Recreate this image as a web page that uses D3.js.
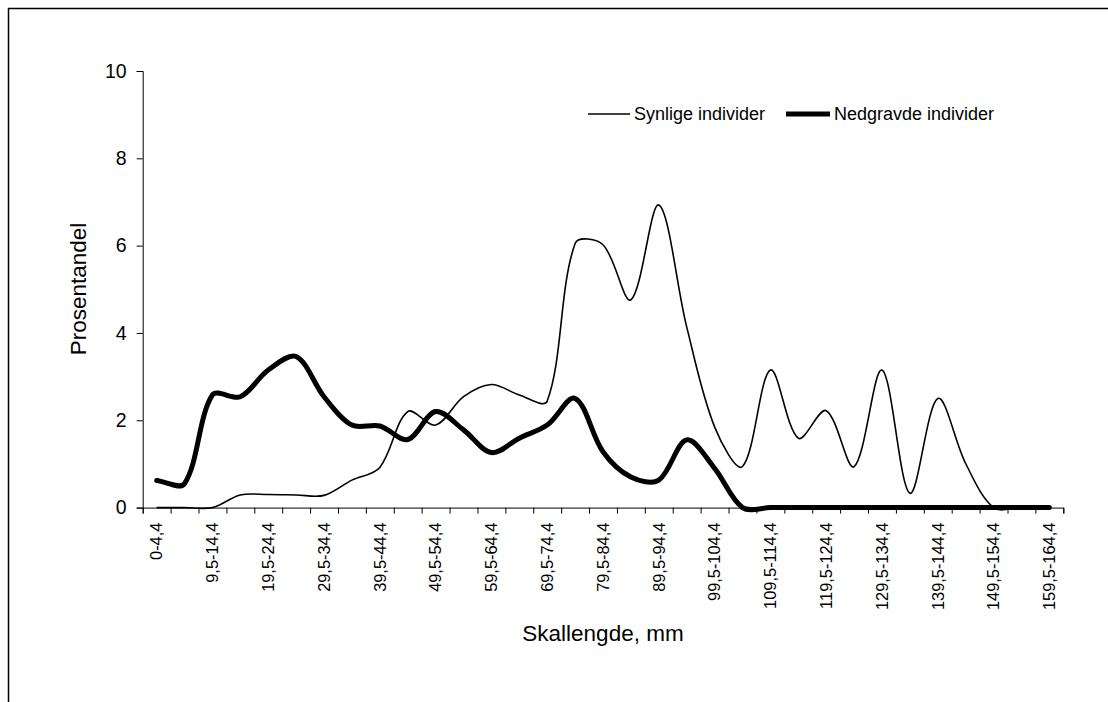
<!DOCTYPE html>
<html>
<head>
<meta charset="utf-8">
<script src="https://cdn.jsdelivr.net/npm/d3@7"></script>
<style>
  html, body { margin: 0; padding: 0; background: #fff; }
  svg { display: block; font-family: "Liberation Sans", Arial, sans-serif; }
</style>
</head>
<body>
<svg id="chart" width="1108" height="702"></svg>
<script>
const categories = ["0-4,4","4,5-9,4","9,5-14,4","14,5-19,4","19,5-24,4","24,5-29,4","29,5-34,4","34,5-39,4","39,5-44,4","44,5-49,4","49,5-54,4","54,5-59,4","59,5-64,4","64,5-69,4","69,5-74,4","74,5-79,4","79,5-84,4","84,5-89,4","89,5-94,4","94,5-99,4","99,5-104,4","104,5-109,4","109,5-114,4","114,5-119,4","119,5-124,4","124,5-129,4","129,5-134,4","134,5-139,4","139,5-144,4","144,5-149,4","149,5-154,4","154,5-159,4","159,5-164,4"];
const synlige = [0,0,0,0.29,0.30,0.29,0.28,0.63,0.92,2.20,1.89,2.54,2.82,2.58,2.44,6.05,6.02,4.76,6.93,4.14,1.85,0.94,3.15,1.59,2.22,0.94,3.15,0.33,2.50,1.01,0,0,0];
const nedgravde = [0.62,0.55,2.58,2.54,3.15,3.46,2.54,1.89,1.87,1.56,2.20,1.78,1.26,1.59,1.89,2.50,1.28,0.70,0.63,1.55,0.90,0,0,0,0,0,0,0,0,0,0,0,0];
const seriesNames = ["Synlige individer", "Nedgravde individer"];
const yTicks = [0, 2, 4, 6, 8, 10];
const xTitle = "Skallengde, mm";
const yTitle = "Prosentandel";

// Spreadsheet-style smoothing: Bezier segments whose handles are scaled by segment length
function SmoothCurve(context) { this._context = context; }
SmoothCurve.prototype = {
  areaStart() { this._line = 0; },
  areaEnd() { this._line = NaN; },
  lineStart() { this._pts = []; },
  point(px, py) { this._pts.push([+px, +py]); },
  lineEnd() {
    const p = this._pts, n = p.length, c = this._context;
    if (!n) return;
    c.moveTo(p[0][0], p[0][1]);
    const dist = (a, b) => Math.hypot(b[0] - a[0], b[1] - a[1]);
    for (let i = 0; i < n - 1; i++) {
      const p0 = p[i - 1] || p[i], p1 = p[i], p2 = p[i + 1], p3 = p[i + 2] || p[i + 1];
      const d01 = dist(p0, p1), d12 = dist(p1, p2), d23 = dist(p2, p3);
      const s1 = (d01 + d12) > 0 ? d12 / (d01 + d12) : 0.5;
      const s2 = (d12 + d23) > 0 ? d12 / (d12 + d23) : 0.5;
      const c1 = [p1[0] + (p2[0] - p0[0]) * s1 / 3, p1[1] + (p2[1] - p0[1]) * s1 / 3];
      const c2 = [p2[0] - (p3[0] - p1[0]) * s2 / 3, p2[1] - (p3[1] - p1[1]) * s2 / 3];
      c.bezierCurveTo(c1[0], c1[1], c2[0], c2[1], p2[0], p2[1]);
    }
  }
};
const smoothCurve = (context) => new SmoothCurve(context);

const svg = d3.select("#chart");

// outer chart border (extends past right/bottom edge)
svg.append("rect").attr("x", 8.5).attr("y", 8.5).attr("width", 1200).attr("height", 800)
  .attr("fill", "none").attr("stroke", "#000").attr("stroke-width", 1.5);

const plotL = 142.7, plotR = 1063.3, plotT = 71, plotB = 507.6;
const x = d3.scaleBand().domain(categories).range([plotL, plotR]).padding(0);
const xEdge = d3.scaleLinear().domain([0, categories.length]).range([plotL, plotR]);
const y = d3.scaleLinear().domain([0, 10]).range([plotB, plotT]);

// Y axis
const yAxis = svg.append("g").attr("transform", `translate(${plotL},0)`)
  .call(d3.axisLeft(y).tickValues(yTicks).tickSize(6).tickPadding(10).tickFormat(d3.format("d")));
yAxis.select(".domain").attr("stroke", "#000").attr("stroke-width", 1);
yAxis.selectAll(".tick line").attr("stroke", "#000");
yAxis.selectAll(".tick text").attr("font-size", 19.5).attr("fill", "#000")
  .attr("font-family", '"Liberation Sans", Arial, sans-serif');

// X axis: boundary ticks
const xTickAxis = svg.append("g").attr("transform", `translate(0,${plotB})`)
  .call(d3.axisBottom(xEdge).tickValues(d3.range(categories.length + 1)).tickSize(6).tickFormat(""));
xTickAxis.select(".domain").attr("stroke", "#000").attr("stroke-width", 1);
xTickAxis.selectAll(".tick line").attr("stroke", "#000");

// X axis labels (every other category)
const xLab = svg.append("g").attr("transform", `translate(0,${plotB})`)
  .call(d3.axisBottom(x).tickSize(0).tickPadding(0)
    .tickFormat((d, i) => (i % 2 === 0 ? d : "")));
xLab.select(".domain").remove();
xLab.selectAll(".tick text")
  .attr("font-size", 16.4).attr("fill", "#000")
  .attr("font-family", '"Liberation Sans", Arial, sans-serif')
  .attr("text-anchor", "end")
  .attr("transform", "rotate(-90)")
  .attr("x", -15).attr("y", 0).attr("dy", "0.35em");

// Lines
const line = (vals) => d3.line()
  .x((d, i) => x(categories[i]) + x.bandwidth() / 2)
  .y(d => y(d))
  .curve(smoothCurve)(vals);

svg.append("path").attr("d", line(synlige)).attr("fill", "none")
  .attr("stroke", "#000").attr("stroke-width", 1.6);
svg.append("path").attr("d", line(nedgravde)).attr("fill", "none")
  .attr("stroke", "#000").attr("stroke-width", 5).attr("stroke-linejoin", "round").attr("stroke-linecap", "round");

// Axis titles
svg.append("text").text(yTitle)
  .attr("transform", "translate(86,289) rotate(-90)")
  .attr("text-anchor", "middle").attr("font-size", 22.5).attr("fill", "#000");
svg.append("text").text(xTitle)
  .attr("x", 603).attr("y", 641)
  .attr("text-anchor", "middle").attr("font-size", 22.5).attr("fill", "#000");

// Legend
const legY = 114;
const leg = svg.append("g");
leg.append("line").attr("x1", 588).attr("x2", 630).attr("y1", legY).attr("y2", legY)
  .attr("stroke", "#000").attr("stroke-width", 1.6);
leg.append("text").text(seriesNames[0]).attr("x", 634).attr("y", legY).attr("dy", "0.35em")
  .attr("font-size", 18).attr("fill", "#000");
leg.append("line").attr("x1", 786).attr("x2", 830).attr("y1", legY).attr("y2", legY)
  .attr("stroke", "#000").attr("stroke-width", 5);
leg.append("text").text(seriesNames[1]).attr("x", 834).attr("y", legY).attr("dy", "0.35em")
  .attr("font-size", 18).attr("fill", "#000");
</script>
</body>
</html>
